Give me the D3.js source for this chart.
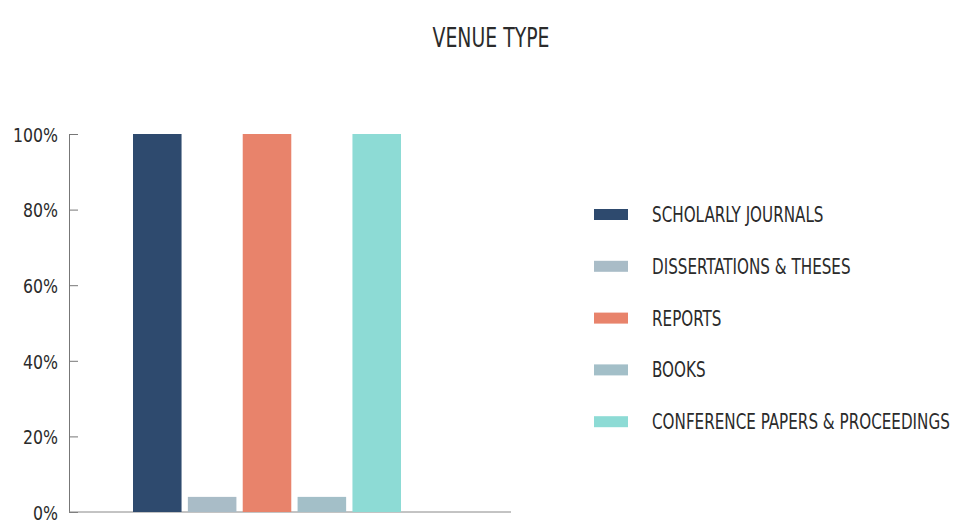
<!DOCTYPE html>
<html>
<head>
<meta charset="utf-8">
<script src="https://cdn.jsdelivr.net/npm/d3@7/dist/d3.min.js"></script>
<style>
  html, body { margin: 0; padding: 0; background: #fff; }
  svg { display: block; }
  text { font-family: "DejaVu Sans Condensed", "DejaVu Sans", sans-serif; font-stretch: condensed; fill: #2b2b2b; }
</style>
</head>
<body>
<svg id="chart" width="957" height="528"></svg>
<script>
// Share of each venue type
const categories = ["SCHOLARLY JOURNALS", "DISSERTATIONS & THESES", "REPORTS", "BOOKS", "CONFERENCE PAPERS & PROCEEDINGS"];
const values = [100, 4, 100, 4, 100];
const colors = ["#2e4a6e", "#a9bcc7", "#e8836b", "#a3bfc8", "#8ddbd5"];
const yTicks = [0, 20, 40, 60, 80, 100];
const title = "VENUE TYPE";

const svg = d3.select("#chart");

// squeeze a group of texts horizontally (about their own x) so the widest is `target` px
function condense(sel, target) {
  let widest = 0;
  sel.each(function () { widest = Math.max(widest, this.getComputedTextLength()); });
  const k = target / widest;
  sel.each(function () {
    const el = d3.select(this);
    const x0 = +el.attr("x") || 0;
    const prev = el.attr("transform") || "";
    el.attr("transform", `${prev} translate(${x0},0) scale(${k},1) translate(${-x0},0)`);
  });
}

const x = d3.scaleBand()
  .domain(categories)
  .range([133, 401])
  .paddingInner(0.115)
  .paddingOuter(0);

const y = d3.scaleLinear().domain([0, 100]).range([512, 134]);

// title
const t = svg.append("text")
  .attr("x", 491).attr("y", 47)
  .attr("text-anchor", "middle")
  .style("font-size", "26px")
  .text(title);
condense(t, 117);

// y axis
const yAxis = d3.axisLeft(y)
  .tickValues(yTicks)
  .tickFormat(d => d + "%")
  .tickSizeInner(-9)
  .tickSizeOuter(0)
  .tickPadding(9);

const gy = svg.append("g").attr("transform", "translate(69,0)").call(yAxis);
gy.select(".domain").attr("stroke", "#777");
gy.selectAll(".tick line").attr("stroke", "#777");
const tickText = gy.selectAll(".tick text")
  .style("font-size", "20px")
  .style("fill", "#2b2b2b")
  .attr("x", -11)
  .attr("dy", "0.36em");
condense(tickText, 45);

// baseline
svg.append("line")
  .attr("x1", 69).attr("x2", 511)
  .attr("y1", y(0)).attr("y2", y(0))
  .attr("stroke", "#888").attr("stroke-width", 1);

// bars
svg.append("g").selectAll("rect")
  .data(categories)
  .join("rect")
  .attr("x", d => x(d))
  .attr("width", x.bandwidth())
  .attr("y", (d, i) => y(values[i]))
  .attr("height", (d, i) => y(0) - y(values[i]))
  .attr("fill", (d, i) => colors[i]);

// legend
const legend = svg.append("g").attr("transform", "translate(594,214)");
const rowStep = 51.8;
const rows = legend.selectAll("g")
  .data(categories)
  .join("g")
  .attr("transform", (d, i) => `translate(0,${i * rowStep})`);

rows.append("rect")
  .attr("x", 0).attr("y", -5)
  .attr("width", 34).attr("height", 11)
  .attr("fill", (d, i) => colors[i]);

const legendText = rows.append("text")
  .attr("x", 58).attr("y", 8)
  .style("font-size", "22px")
  .text(d => d);
condense(legendText, 298);
</script>
</body>
</html>
